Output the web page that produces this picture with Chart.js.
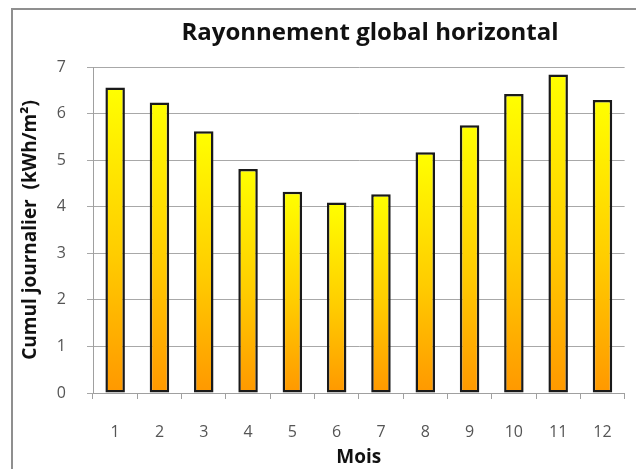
<!DOCTYPE html>
<html>
<head>
<meta charset="utf-8">
<script src="https://cdn.jsdelivr.net/npm/chart.js@4/dist/chart.umd.min.js"></script>
<style>
  html, body { margin: 0; padding: 0; background: #fff; }
  #wrap { width: 636px; height: 469px; }
</style>
</head>
<body>
<div id="wrap"><canvas id="myChart"></canvas></div>
<script>
const months = ['1', '2', '3', '4', '5', '6', '7', '8', '9', '10', '11', '12'];
const dailyTotals = [6.56, 6.24, 5.62, 4.81, 4.32, 4.09, 4.27, 5.17, 5.75, 6.42, 6.84, 6.29];
const chartTitle = 'Rayonnement global horizontal';
const yTitle = 'Cumul journalier  (kWh/m²)';
const xTitle = 'Mois';

const fontFamily = '"Open Sans", "Noto Sans", sans-serif';

// yellow at the top of each bar to orange at its foot
function barGradient(ctx) {
  const chart = ctx.chart;
  if (!chart.chartArea || ctx.raw === undefined) return '#ffd000';
  const y = chart.scales.y;
  const top = y.getPixelForValue(ctx.raw);
  const bottom = y.getPixelForValue(0);
  const g = chart.ctx.createLinearGradient(0, top, 0, bottom);
  g.addColorStop(0, '#ffff00');
  g.addColorStop(0.55, '#ffcc00');
  g.addColorStop(1, '#ff9800');
  return g;
}

// outer frame and the chart title
const framePlugin = {
  id: 'frame',
  beforeDraw(chart) {
    const c = chart.ctx;
    c.save();
    c.strokeStyle = '#8f8f8f';
    c.lineWidth = 2;
    c.strokeRect(12, 9, 720, 520);
    c.restore();
  },
  afterDraw(chart) {
    const c = chart.ctx;
    c.save();
    c.font = 'bold 24px ' + fontFamily;
    c.fillStyle = '#111';
    c.textAlign = 'center';
    c.textBaseline = 'middle';
    c.fillText(chartTitle, 370, 33);
    c.restore();
  }
};

const data = {
  labels: months,
  datasets: [{
    data: dailyTotals,
    backgroundColor: barGradient,
    borderColor: '#1a1a1a',
    borderWidth: 2.5,
    borderSkipped: false,
    barPercentage: 0.44,
    categoryPercentage: 1
  }]
};

const config = {
  type: 'bar',
  data: data,
  plugins: [framePlugin],
  options: {
    responsive: true,
    maintainAspectRatio: false,
    animation: false,
    devicePixelRatio: 1,
    layout: { padding: { top: 67, right: 9, bottom: 0, left: 0 } },
    plugins: {
      legend: { display: false },
      tooltip: { enabled: false },
      title: { display: false }
    },
    scales: {
      x: {
        afterFit(scale) { scale.height = 76; },
        grid: { offset: true, drawOnChartArea: false, drawTicks: true, tickLength: 6, color: '#a0a0a0' },
        border: { color: '#a0a0a0', width: 1 },
        ticks: { color: '#555', padding: 24, font: { family: fontFamily, size: 16 } },
        title: { display: true, text: xTitle, color: '#111', padding: { top: 0, bottom: 0 }, font: { family: fontFamily, size: 19, weight: 'bold' } }
      },
      y: {
        min: 0,
        max: 7,
        afterFit(scale) { scale.width = 93; },
        ticks: { stepSize: 1, color: '#555', padding: 21, font: { family: fontFamily, size: 16 } },
        grid: { color: '#a8a8a8', tickLength: 6 },
        border: { color: '#a0a0a0', width: 1 },
        title: { display: true, text: yTitle, color: '#111', padding: { top: 19, bottom: 0 }, font: { family: fontFamily, size: 19, weight: 'bold' } }
      }
    }
  }
};

const myChart = new Chart(document.getElementById('myChart'), config);
</script>
</body>
</html>
